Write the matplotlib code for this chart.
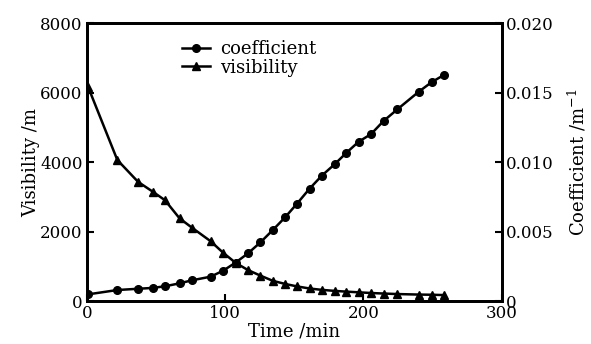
import matplotlib
matplotlib.use("Agg")
import matplotlib.pyplot as plt

time_min = [1, 22, 37, 47.5, 56.5, 67, 76, 89.5, 98.5, 107.5, 116.5, 125.5, 134.5,
            143.5, 152, 161, 170, 179.5, 187.5, 196.5, 205.5, 214.5, 224.5, 240, 249.5, 258.5]
coefficient = [0.00048, 0.00079, 0.00088, 0.00094, 0.00106, 0.00127, 0.00149, 0.00175,
               0.00218, 0.00276, 0.00343, 0.00422, 0.00511, 0.00604, 0.00701, 0.00808,
               0.00903, 0.00987, 0.01065, 0.01146, 0.01201, 0.01295, 0.01379, 0.01506,
               0.01576, 0.01628]
visibility = [6150, 4060, 3430, 3150, 2900, 2380, 2110, 1720, 1390, 1100, 890, 730, 580,
              490, 420, 360, 320, 290, 270, 250, 230, 215, 200, 185, 180, 170]

x_ticks = [0, 100, 200, 300]
vis_ticks = [0, 2000, 4000, 6000, 8000]
coef_ticks = [0, 0.005, 0.010, 0.015, 0.020]
coef_labels = ["0", "0.005", "0.010", "0.015", "0.020"]

plt.rcParams['font.family'] = ['DejaVu Serif']
plt.rcParams['mathtext.fontset'] = 'dejavuserif'

fig = plt.figure(figsize=(5.91, 3.44), dpi=100)
ax = fig.add_axes([0.147, 0.125, 0.702, 0.808])
ax2 = ax.twinx()

l1, = ax2.plot(time_min, coefficient, color='black', lw=1.8, marker='o', ms=5.5,
               label='coefficient')
l2, = ax.plot(time_min, visibility, color='black', lw=1.8, marker='^', ms=5.5,
              label='visibility')

ax.set_xlim(0, 300)
ax.set_ylim(0, 8000)
ax2.set_ylim(0, 0.020)
ax.set_xticks(x_ticks)
ax.set_yticks(vis_ticks)
ax2.set_yticks(coef_ticks)
ax2.set_yticklabels(coef_labels)

for a in (ax, ax2):
    for s in a.spines.values():
        s.set_linewidth(2.0)
    a.tick_params(direction='in', length=5, width=1.5, labelsize=12, pad=3)

ax.set_xlabel('Time /min', fontsize=13, labelpad=0)
ax.set_ylabel('Visibility /m', fontsize=13, labelpad=0)
ax2.set_ylabel('Coefficient /m$^{-1}$', fontsize=13, labelpad=9)

ax.legend(handles=[l1, l2], loc='upper left', bbox_to_anchor=(0.2, 0.985), frameon=False,
          fontsize=13, handlelength=1.5, handletextpad=0.6, labelspacing=0.05,
          borderaxespad=0.3)

fig.savefig('out.png', dpi=100)
